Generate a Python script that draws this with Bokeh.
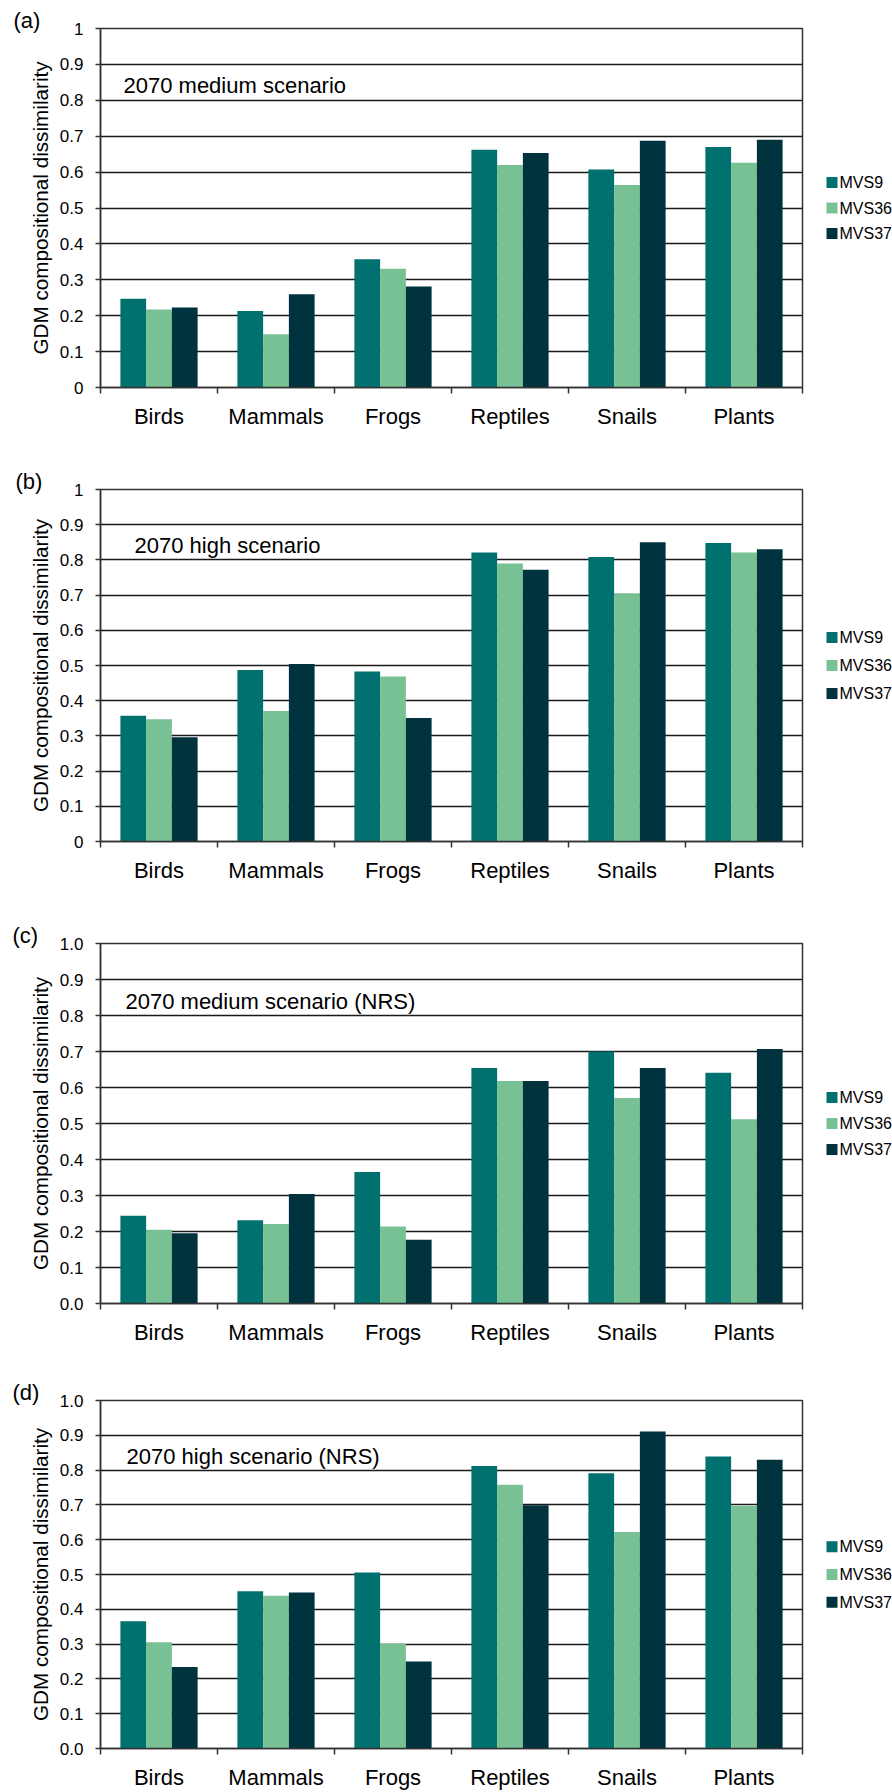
from bokeh.plotting import figure
from bokeh.models import (ColumnDataSource, FixedTicker, NumeralTickFormatter, Label, Range1d)
from bokeh.layouts import column, row
from bokeh.embed import file_html
from bokeh.resources import INLINE
from bokeh.core.properties import value
import math

categories = ["Birds", "Mammals", "Frogs", "Reptiles", "Snails", "Plants"]
series_names = ["MVS9", "MVS36", "MVS37"]
colors = ["#00716F", "#77C194", "#00333D"]
y_label = "GDM compositional dissimilarity"

a_mvs9 = [0.247, 0.213, 0.357, 0.662, 0.607, 0.670]
a_mvs36 = [0.217, 0.148, 0.331, 0.620, 0.564, 0.626]
a_mvs37 = [0.223, 0.260, 0.281, 0.653, 0.687, 0.690]

b_mvs9 = [0.357, 0.487, 0.483, 0.821, 0.808, 0.848]
b_mvs36 = [0.347, 0.371, 0.469, 0.790, 0.705, 0.821]
b_mvs37 = [0.296, 0.504, 0.351, 0.772, 0.850, 0.830]

c_mvs9 = [0.244, 0.231, 0.365, 0.654, 0.700, 0.641]
c_mvs36 = [0.205, 0.221, 0.214, 0.618, 0.571, 0.512]
c_mvs37 = [0.195, 0.304, 0.177, 0.618, 0.654, 0.707]

d_mvs9 = [0.366, 0.452, 0.506, 0.812, 0.791, 0.839]
d_mvs36 = [0.305, 0.439, 0.302, 0.758, 0.622, 0.697]
d_mvs37 = [0.234, 0.448, 0.250, 0.699, 0.911, 0.830]

panels = [
    ("(a)", "2070 medium scenario", [a_mvs9, a_mvs36, a_mvs37], "0.[0]"),
    ("(b)", "2070 high scenario", [b_mvs9, b_mvs36, b_mvs37], "0.[0]"),
    ("(c)", "2070 medium scenario (NRS)", [c_mvs9, c_mvs36, c_mvs37], "0.0"),
    ("(d)", "2070 high scenario (NRS)", [d_mvs9, d_mvs36, d_mvs37], "0.0"),
]
# layout per panel: (top border, frame height, bottom border, note x-offset, legend spacing, tag x)
geoms = [(28, 359, 82, 23, 25.5, 13), (20, 352, 82, 34, 28, 15),
         (20, 360, 77, 25, 26, 12), (20, 352, 40, 26, 28, 12)]

FONT = "Liberation Sans"
GRID = "#1a1a1a"
bar_w = 0.22
offsets = [-0.22, 0.0, 0.22]
LEFT_W = 56
MAIN_BL = 44
FRAME_W = 702
MAIN_W = MAIN_BL + FRAME_W + 2
LEG_W = 892 - LEFT_W - MAIN_W


def strip(width, top, fh, bb):
    f = figure(width=width, height=top + fh + bb, output_backend="svg", toolbar_location=None,
               x_range=Range1d(0, width), y_range=Range1d(0, fh),
               x_axis_location=None, y_axis_location=None,
               min_border_left=0, min_border_right=0, min_border_top=top,
               min_border_bottom=bb, outline_line_color=None)
    f.grid.visible = False
    return f


rows = []
for (tag, note, series, fmt), (top, fh, bb, note_dx, lsp, tag_x) in zip(panels, geoms):
    H = top + fh + bb

    # ---- left strip: panel tag (title) and y-axis title ----
    lf = strip(LEFT_W, top, fh, bb)
    lf.title.text = tag
    lf.title.align = "left"
    lf.title.offset = tag_x
    lf.title.standoff = -8
    lf.title.text_font = FONT
    lf.title.text_font_size = "22px"
    lf.title.text_font_style = "normal"
    lf.title.text_color = "black"
    lf.text(x=[40], y=[fh / 2], text=[y_label], angle=math.pi / 2,
            text_font=value(FONT), text_font_size="20.7px", text_baseline="middle",
            text_align="center", text_color="black")

    # ---- main chart ----
    p = figure(width=MAIN_W, height=H, output_backend="svg",
               toolbar_location=None, x_range=Range1d(0, 6), y_range=Range1d(0, 1))
    p.min_border_left = MAIN_BL
    p.min_border_right = 2
    p.min_border_top = top
    p.min_border_bottom = bb
    p.outline_line_color = "#333333"
    p.outline_line_width = 1.5
    p.xgrid.visible = False
    p.ygrid.grid_line_color = GRID
    p.ygrid.grid_line_width = 1.4

    centers = [i + 0.5 for i in range(len(categories))]
    for k, (vals, col) in enumerate(zip(series, colors)):
        src = ColumnDataSource(dict(x=[c + offsets[k] for c in centers], top=vals))
        p.vbar(x="x", top="top", bottom=0, width=bar_w, source=src,
               fill_color=col, line_color=None)

    xa = p.xaxis[0]
    xa.ticker = FixedTicker(ticks=centers, minor_ticks=list(range(len(categories) + 1)))
    xa.major_label_overrides = {c: name for c, name in zip(centers, categories)}
    xa.major_tick_out = 0
    xa.major_tick_in = 0
    xa.minor_tick_out = 6
    xa.minor_tick_in = 0
    xa.minor_tick_line_color = "#333333"
    xa.minor_tick_line_width = 1.5
    xa.axis_line_color = "#333333"
    xa.axis_line_width = 1.5
    xa.major_label_text_font = FONT
    xa.major_label_text_font_size = "22px"
    xa.major_label_text_color = "black"
    xa.major_label_standoff = 10

    ya = p.yaxis[0]
    ya.ticker = FixedTicker(ticks=[i / 10 for i in range(11)], minor_ticks=[])
    ya.formatter = NumeralTickFormatter(format=fmt)
    ya.major_tick_out = 5
    ya.major_tick_in = 0
    ya.major_tick_line_color = "#333333"
    ya.major_tick_line_width = 1.5
    ya.axis_line_color = "#333333"
    ya.axis_line_width = 1.5
    ya.major_label_text_font = FONT
    ya.major_label_text_font_size = "17px"
    ya.major_label_text_color = "black"
    ya.major_label_standoff = 12

    p.add_layout(Label(x=0, y=0.84, x_offset=note_dx, text=note, text_font=FONT,
                       text_font_size="22px", text_baseline="middle", text_align="left",
                       text_color="black"))

    # ---- legend strip ----
    lg = strip(LEG_W, top, fh, bb)
    yc = fh / 2
    ys = [yc + lsp * (1 - i) for i in range(len(series_names))]
    lg.scatter(x=[22 + 5.5] * len(series_names), y=ys, marker="square", size=11,
               fill_color=colors, line_color=None)
    lg.text(x=[35] * len(series_names), y=ys, text=series_names, text_font=value(FONT),
            text_font_size="16px", text_baseline="middle", text_align="left", text_color="black")

    rows.append(row(lf, p, lg, spacing=0))

layout = column(*rows, spacing=0)
open("out.html", "w").write(file_html(layout, INLINE))
